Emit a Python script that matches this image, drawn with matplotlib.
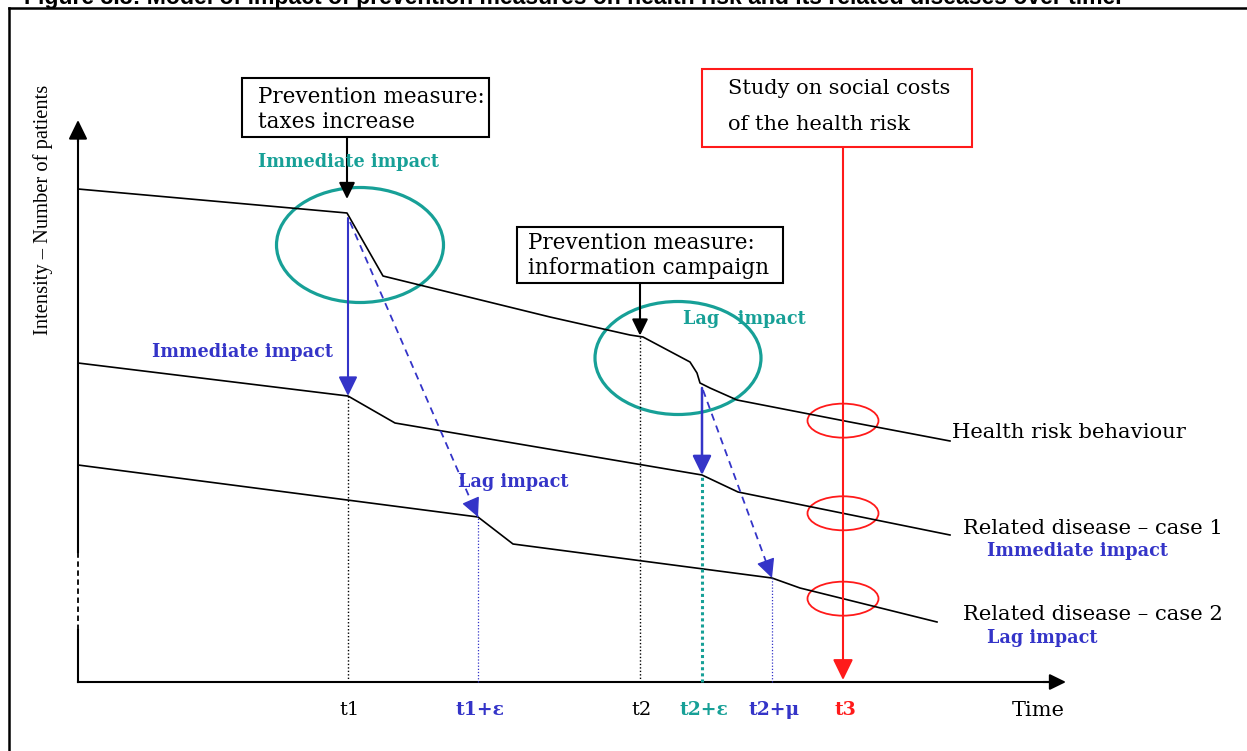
import matplotlib.pyplot as plt
import numpy as np
from matplotlib.patches import Ellipse, Rectangle

TEAL = '#17a097'
BLUE = '#3434c8'
RED = '#ff1a1a'
SERIF = 'DejaVu Serif'

# diagram units: time to the right of the vertical axis, intensity above the time axis
health_t = [0, 269, 305, 472, 552, 565, 612, 619, 622, 632, 659, 772, 872]
health_v = [493, 469, 406, 365, 347, 345, 320, 309, 299, 294, 282, 260, 241]
case1_t = [0, 270, 317, 624, 660, 872]
case1_v = [319, 286, 259, 207, 190, 147]
case2_t = [0, 400, 435, 694, 722, 859]
case2_v = [217, 165, 138, 104, 94, 60]

tick_names = ['t1', 't1+ε', 't2', 't2+ε', 't2+μ', 't3']
tick_times = [270, 400, 562, 624, 694, 765]
tick_colors = ['black', BLUE, 'black', TEAL, BLUE, RED]
tick_bold = [False, True, False, True, True, True]

series_names = ['Health risk behaviour', 'Related disease \u2013 case 1', 'Related disease \u2013 case 2']
series_notes = ['', 'Immediate impact', 'Lag impact']

title = ('Figure 3.3: Model of impact of prevention measures on health risk '
         'and its related diseases over time.')

fig = plt.figure(figsize=(12.47, 7.51), dpi=100)
ax = fig.add_axes([0, 0, 1, 1])
ax.set_xlim(-78, 1169)
ax.set_ylim(-69, 682)
ax.set_axis_off()


def arrow(tail, head, color, lw=1.5, ms=24, ls='-'):
    ax.annotate('', xy=head, xytext=tail, annotation_clip=False,
                arrowprops=dict(arrowstyle='-|>,head_length=0.45,head_width=0.22',
                                color=color, lw=lw, linestyle=ls,
                                mutation_scale=ms, shrinkA=0, shrinkB=0))


def dashed_arrow(tail, head, color):
    ax.plot([tail[0], head[0]], [tail[1], head[1]], color=color, lw=1.3, dashes=(4, 3))
    d = np.array(head, float) - np.array(tail, float)
    d = d / np.hypot(*d)
    arrow(tuple(np.array(head) - d * 16), head, color, lw=1.0, ms=26)


# outer frame and the caption, cut by the top edge as in the source page
ax.plot([-69, -69], [-69, 674], color='black', lw=1.8, clip_on=False)
ax.plot([-69, 1169], [674, 674], color='black', lw=1.8, clip_on=False)
ax.text(-54, 678, title, family='Liberation Sans', weight='bold', fontsize=16.6,
        va='baseline', ha='left', clip_on=False)

# axes of the diagram
ax.plot([0, 0], [0, 52], color='black', lw=1.5)
ax.plot([0, 0], [52, 130], color='black', lw=1.3, dashes=(3, 2))
ax.plot([0, 0], [130, 548], color='black', lw=1.5)
arrow((0, 540), (0, 562), 'black', ms=26)
ax.plot([0, 975], [0, 0], color='black', lw=1.5)
arrow((965, 0), (988, 0), 'black', ms=22)
ax.text(-35, 472, 'Intensity \u2013 Number of patients', family='Liberation Serif',
        fontsize=14.8, rotation=90, ha='center', va='center')

# the three curves
for t, v in [(health_t, health_v), (case1_t, case1_v), (case2_t, case2_v)]:
    ax.plot(t, v, color='black', lw=1.2)

# vertical guides down to the time axis
guide_series = [(case1_t, case1_v), (case2_t, case2_v), (health_t, health_v),
                (case1_t, case1_v), (case2_t, case2_v)]
guide_styles = [('black', 1.0, (1, 1.5)), (BLUE, 0.9, (1, 1.5)), ('black', 1.0, (1, 1.5)),
                (TEAL, 2.2, (1, 1)), (BLUE, 0.9, (1, 1.5))]
for tt, (st, sv), (c, lw, ds) in zip(tick_times[:5], guide_series, guide_styles):
    top = np.interp(tt, st, sv)
    ax.plot([tt, tt], [0, top], color=c, lw=lw, dashes=ds)

# time labels
for name, tt, c, b in zip(tick_names, tick_times, tick_colors, tick_bold):
    ax.text(tt + 2, -28, name, family=SERIF, color=c, fontsize=14 if not b else 13.5,
            weight='bold' if b else 'normal', ha='center', va='center')
ax.text(960, -28, 'Time', family=SERIF, fontsize=15, ha='center', va='center')

# prevention measure 1: taxes
ax.add_patch(Rectangle((164, 545), 247, 59, fill=False, ec='black', lw=1.5))
ax.text(180, 585, 'Prevention measure:', family=SERIF, fontsize=15.5, va='center')
ax.text(180, 560, 'taxes increase', family=SERIF, fontsize=15.5, va='center')
arrow((269, 545), (269, 483), 'black', ms=22)
ax.text(180, 520, 'Immediate impact', family=SERIF, weight='bold', color=TEAL,
        fontsize=12.7, va='center')
ax.add_patch(Ellipse((282, 437), 167, 115, fill=False, ec=TEAL, lw=2.3))
arrow((270, 464), (270, np.interp(270, case1_t, case1_v)), BLUE, lw=1.5, ms=26)
dashed_arrow((272, 460), (400, np.interp(400, case2_t, case2_v)), BLUE)
ax.text(74, 330, 'Immediate impact', family=SERIF, weight='bold', color=BLUE,
        fontsize=12.7, va='center')
ax.text(380, 200, 'Lag impact', family=SERIF, weight='bold', color=BLUE,
        fontsize=12.7, va='center')

# prevention measure 2: information campaign
ax.add_patch(Rectangle((439, 399), 266, 56, fill=False, ec='black', lw=1.5))
ax.text(450, 439, 'Prevention measure:', family=SERIF, fontsize=15.5, va='center')
ax.text(450, 414, 'information campaign', family=SERIF, fontsize=15.5, va='center')
arrow((562, 399), (562, np.interp(562, health_t, health_v) + 1), 'black', ms=22)
ax.add_patch(Ellipse((600, 324), 166, 113, fill=False, ec=TEAL, lw=2.3))
ax.text(605, 363, 'Lag   impact', family=SERIF, weight='bold', color=TEAL,
        fontsize=12.7, va='center')
arrow((624, 294), (624, np.interp(624, case1_t, case1_v)), BLUE, lw=1.8, ms=26)
dashed_arrow((625, 292), (694, np.interp(694, case2_t, case2_v)), BLUE)

# study on social costs at t3
ax.add_patch(Rectangle((624, 535), 270, 78, fill=False, ec=RED, lw=1.5))
ax.text(650, 594, 'Study on social costs', family=SERIF, fontsize=15, va='center')
ax.text(650, 557, 'of the health risk', family=SERIF, fontsize=15, va='center')
arrow((765, 535), (765, 2), RED, lw=1.5, ms=28)
for st, sv in [(health_t, health_v), (case1_t, case1_v), (case2_t, case2_v)]:
    ax.add_patch(Ellipse((765, np.interp(765, st, sv)), 71, 34, fill=False, ec=RED, lw=1.3))

# curve names on the right
label_y = [249, 154, 67]
label_x = [874, 885, 885]
for name, note, lx, ly in zip(series_names, series_notes, label_x, label_y):
    ax.text(lx, ly, name, family=SERIF, fontsize=15.2, va='center')
    if note:
        ax.text(909, ly - 23, note, family=SERIF, weight='bold', color=BLUE,
                fontsize=12.7, va='center')

fig.savefig('out.png', dpi=100)
